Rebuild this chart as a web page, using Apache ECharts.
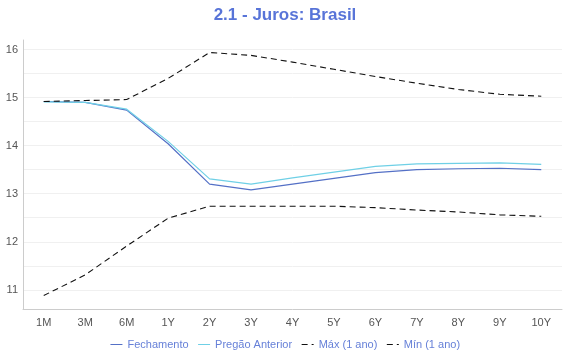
<!DOCTYPE html>
<html><head><meta charset="utf-8">
<script src="https://cdn.jsdelivr.net/npm/echarts@6/dist/echarts.min.js"></script>
<style>html,body{margin:0;padding:0;background:#fff}#c{width:570px;height:360px}</style>
</head><body><div id="c"></div>
<script>
var categories = ['1M','3M','6M','1Y','2Y','3Y','4Y','5Y','6Y','7Y','8Y','9Y','10Y'];
var fechamento = [14.92,14.90,14.74,14.04,13.20,13.08,13.20,13.32,13.44,13.50,13.52,13.53,13.50];
var pregaoAnterior = [14.91,14.90,14.76,14.09,13.31,13.20,13.33,13.45,13.57,13.62,13.63,13.64,13.61];
var maxAno = [14.92,14.94,14.96,15.40,15.94,15.88,15.74,15.59,15.44,15.30,15.17,15.07,15.03];
var minAno = [10.88,11.31,11.91,12.49,12.74,12.74,12.74,12.74,12.71,12.66,12.62,12.56,12.53];
var yLabels = [11,12,13,14,15,16];
var yGrid = [11,11.5,12,12.5,13,13.5,14,14.5,15,15.5,16];

var chart = echarts.init(document.getElementById('c'));
var font = 'Liberation Sans, Arial, sans-serif';
chart.setOption({
  animation: false,
  textStyle: {fontFamily: font},
  title: {text: '2.1 - Juros: Brasil', left: 'center', top: 2,
    textStyle: {color: '#5874d8', fontSize: 17, fontWeight: 'bold', fontFamily: font}},
  grid: {left: 23, right: 8, top: 40, bottom: 51, containLabel: false},
  legend: {bottom: 5, left: 'center', itemWidth: 12, itemHeight: 10, itemGap: 9,
    itemStyle: {opacity: 0}, lineStyle: {width: 1},
    textStyle: {color: '#6680d8', fontSize: 11, fontFamily: font},
    data: ['Fechamento','Pregão Anterior','Máx (1 ano)','Mín (1 ano)']},
  xAxis: {type: 'category', data: categories, boundaryGap: true,
    axisLine: {lineStyle: {color: '#cccccc'}}, axisTick: {show: false},
    axisLabel: {color: '#555', fontSize: 11, margin: 8}},
  yAxis: {type: 'value', min: 10.6, max: 16.2,
    axisLine: {show: true, lineStyle: {color: '#cccccc'}},
    axisTick: {show: false, customValues: yGrid},
    axisLabel: {customValues: yLabels, color: '#555', fontSize: 11, margin: 5},
    splitLine: {show: true, lineStyle: {color: '#f0f0f0'}}},
  series: [
    {name: 'Fechamento', type: 'line', data: fechamento, symbol: 'none',
      lineStyle: {color: '#5470c6', width: 1.2}, itemStyle: {color: '#5470c6'}},
    {name: 'Pregão Anterior', type: 'line', data: pregaoAnterior, symbol: 'none',
      lineStyle: {color: '#6fd0e6', width: 1.2}, itemStyle: {color: '#6fd0e6'}},
    {name: 'Máx (1 ano)', type: 'line', data: maxAno, symbol: 'none',
      lineStyle: {color: '#111', width: 1.1, type: [6,4]}, itemStyle: {color: '#111'}},
    {name: 'Mín (1 ano)', type: 'line', data: minAno, symbol: 'none',
      lineStyle: {color: '#111', width: 1.1, type: [6,4]}, itemStyle: {color: '#111'}}
  ]
});
</script></body></html>
